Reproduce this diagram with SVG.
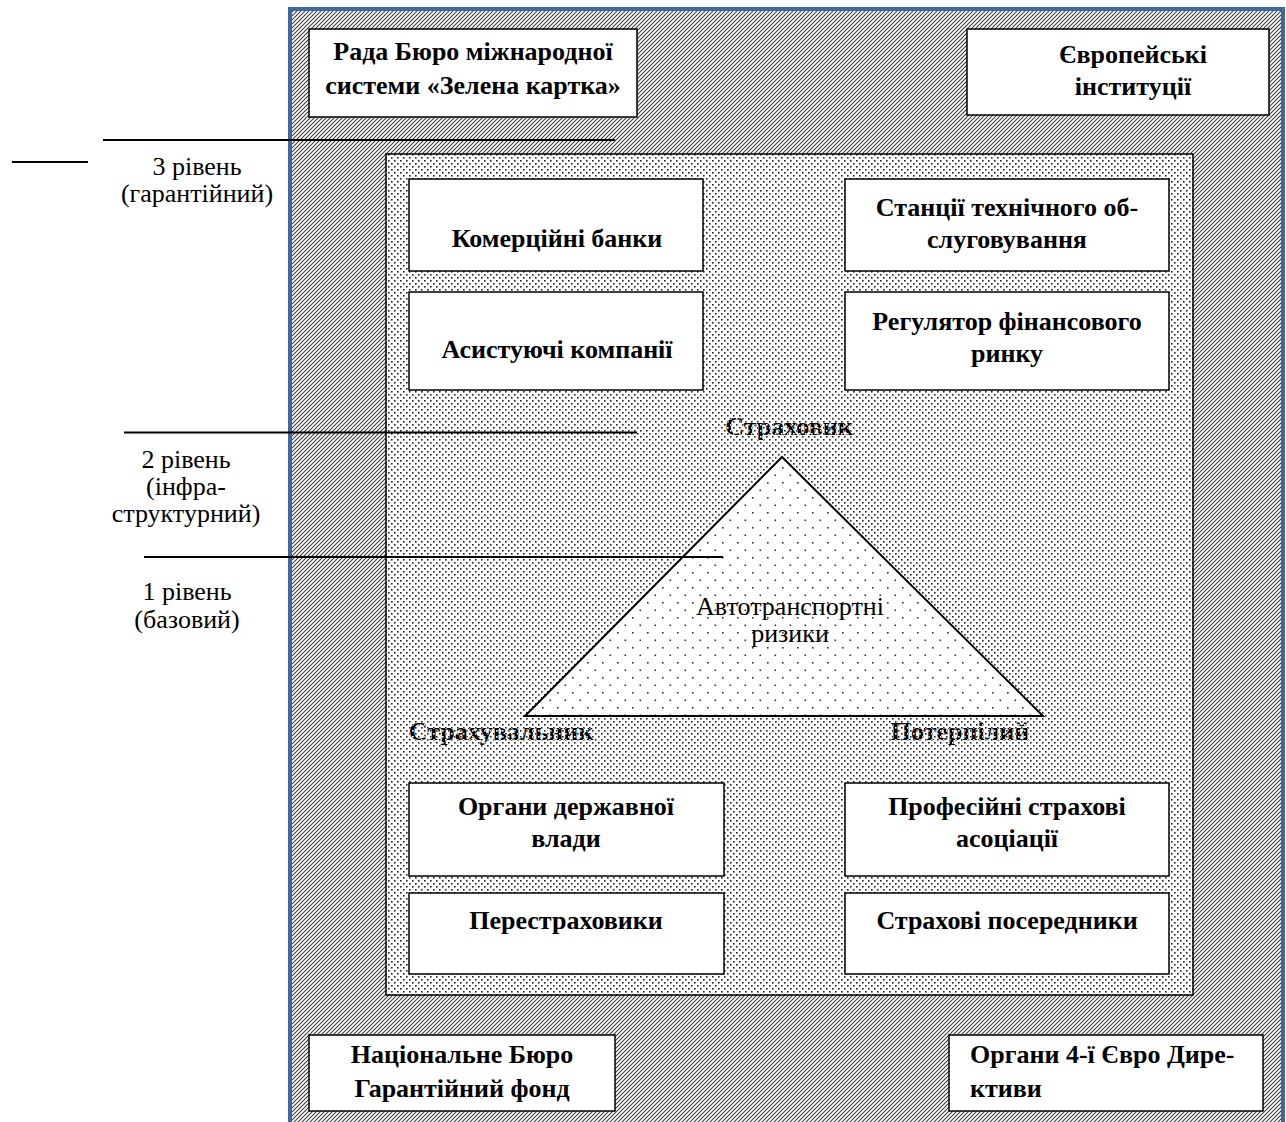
<svg xmlns="http://www.w3.org/2000/svg" width="1286" height="1122" viewBox="0 0 1286 1122">
  <defs>
    <!-- diagonal hatch for the outer (guarantee) level -->
    <pattern id="hatch" width="4" height="4" patternUnits="userSpaceOnUse">
      <rect width="4" height="4" fill="#fff"/>
      <path d="M-1,1 L1,-1 M0,4 L4,0 M3,5 L5,3" stroke="#3a3a3a" stroke-width="1.05"/>
    </pattern>
    <!-- dense stipple for the infrastructure level -->
    <pattern id="dots" width="6" height="6" patternUnits="userSpaceOnUse">
      <rect width="6" height="6" fill="#fff"/>
      <rect x="1" y="1" width="1.6" height="1.6" fill="#222"/>
      <rect x="4" y="4" width="1.6" height="1.6" fill="#222"/>
    </pattern>
    <!-- inverse stipple used as a fill for labels printed on the dotted area -->
    <pattern id="dotsInv" width="6" height="6" patternUnits="userSpaceOnUse">
      <rect width="6" height="6" fill="#000"/>
      <rect x="1" y="1" width="1.6" height="1.6" fill="#fff"/>
      <rect x="4" y="4" width="1.6" height="1.6" fill="#fff"/>
    </pattern>
    <!-- sparse stipple inside the risk triangle -->
    <pattern id="sparse" width="15" height="15" patternUnits="userSpaceOnUse">
      <rect width="15" height="15" fill="#fff"/>
      <rect x="2" y="2" width="1.6" height="1.6" fill="#333"/>
      <rect x="9.5" y="9.5" width="1.6" height="1.6" fill="#333"/>
    </pattern>
    <style>
      .box { fill: #fff; stroke: #000; stroke-width: 1.5; }
      .bt { font-family: "Liberation Serif", "Times New Roman", serif; font-weight: bold; font-size: 26px; text-anchor: middle; fill: #000; }
      .rt { font-family: "Liberation Serif", "Times New Roman", serif; font-size: 26px; text-anchor: middle; fill: #000; }
      .st { text-anchor: start; }
      .inv { fill: url(#dotsInv); }
      .lvl { stroke: #000; stroke-width: 2; }
    </style>
  </defs>

  <rect width="1286" height="1122" fill="#fff"/>

  <!-- level 3: outer frame -->
  <rect id="frame-level3" x="290" y="9" width="993" height="1125" fill="url(#hatch)" stroke="#41689c" stroke-width="4"/>

  <!-- level 2: inner dotted area -->
  <rect id="frame-level2" x="386" y="154" width="807" height="841" fill="url(#dots)" stroke="#000" stroke-width="1.5"/>

  <!-- level 1: risk triangle -->
  <g id="triangle">
    <polygon points="782,457 525,716 1043,716" fill="url(#sparse)" stroke="#000" stroke-width="2"/>
    <text class="rt" x="790" y="615">Автотранспортні</text>
    <text class="rt" x="790" y="642">ризики</text>
  </g>

  <!-- level separators -->
  <g id="connectors">
    <line class="lvl" x1="103" y1="140" x2="615" y2="140"/>
    <line class="lvl" x1="12" y1="162" x2="88" y2="162"/>
    <line class="lvl" x1="124" y1="432.5" x2="637" y2="432.5"/>
    <line class="lvl" x1="144" y1="557" x2="723" y2="557"/>
  </g>

  <g id="label-level3">
    <text class="rt" x="197" y="175">3 рівень</text>
    <text class="rt" x="197" y="202">(гарантійний)</text>
  </g>
  <g id="label-level2">
    <text class="rt" x="186" y="468">2 рівень</text>
    <text class="rt" x="186" y="495">(інфра-</text>
    <text class="rt" x="186" y="522">структурний)</text>
  </g>
  <g id="label-level1">
    <text class="rt" x="187" y="600">1 рівень</text>
    <text class="rt" x="187" y="628">(базовий)</text>
  </g>

  <!-- parties of the triangle -->
  <g id="insurer"><text class="bt inv" x="789" y="435">Страховик</text></g>
  <g id="policyholder"><text class="bt inv" x="501" y="740">Страхувальник</text></g>
  <g id="victim"><text class="bt inv" x="960" y="740">Потерпілий</text></g>

  <!-- outer level boxes -->
  <g id="green-card-council">
    <rect class="box" x="309" y="29" width="328" height="88"/>
    <text class="bt" x="473" y="60">Рада Бюро міжнародної</text>
    <text class="bt" x="473" y="94">системи «Зелена картка»</text>
  </g>
  <g id="european-institutions">
    <rect class="box" x="967" y="29" width="302" height="86"/>
    <text class="bt" x="1133" y="63">Європейські</text>
    <text class="bt" x="1133" y="95">інституції</text>
  </g>
  <g id="national-bureau">
    <rect class="box" x="309" y="1035" width="306" height="76"/>
    <text class="bt" x="462" y="1063">Національне Бюро</text>
    <text class="bt" x="462" y="1097">Гарантійний фонд</text>
  </g>
  <g id="fourth-directive">
    <rect class="box" x="949" y="1035" width="314" height="76"/>
    <text class="bt st" x="970" y="1063">Органи 4-ї Євро Дире-</text>
    <text class="bt st" x="970" y="1097">ктиви</text>
  </g>

  <!-- infrastructure level boxes -->
  <g id="banks">
    <rect class="box" x="409" y="179" width="294" height="92"/>
    <text class="bt" x="557" y="247">Комерційні банки</text>
  </g>
  <g id="service-stations">
    <rect class="box" x="845" y="179" width="324" height="92"/>
    <text class="bt" x="1007" y="216">Станції технічного об-</text>
    <text class="bt" x="1007" y="248">слуговування</text>
  </g>
  <g id="assistance">
    <rect class="box" x="409" y="292" width="294" height="98"/>
    <text class="bt" x="557" y="358">Асистуючі компанії</text>
  </g>
  <g id="regulator">
    <rect class="box" x="845" y="292" width="324" height="98"/>
    <text class="bt" x="1007" y="330">Регулятор фінансового</text>
    <text class="bt" x="1007" y="362">ринку</text>
  </g>
  <g id="authorities">
    <rect class="box" x="409" y="783" width="315" height="93"/>
    <text class="bt" x="566" y="815">Органи державної</text>
    <text class="bt" x="566" y="847">влади</text>
  </g>
  <g id="associations">
    <rect class="box" x="845" y="783" width="324" height="93"/>
    <text class="bt" x="1007" y="815">Професійні страхові</text>
    <text class="bt" x="1007" y="847">асоціації</text>
  </g>
  <g id="reinsurers">
    <rect class="box" x="409" y="893" width="315" height="81"/>
    <text class="bt" x="566" y="929">Перестраховики</text>
  </g>
  <g id="intermediaries">
    <rect class="box" x="845" y="893" width="324" height="81"/>
    <text class="bt" x="1007" y="929">Страхові посередники</text>
  </g>
</svg>
